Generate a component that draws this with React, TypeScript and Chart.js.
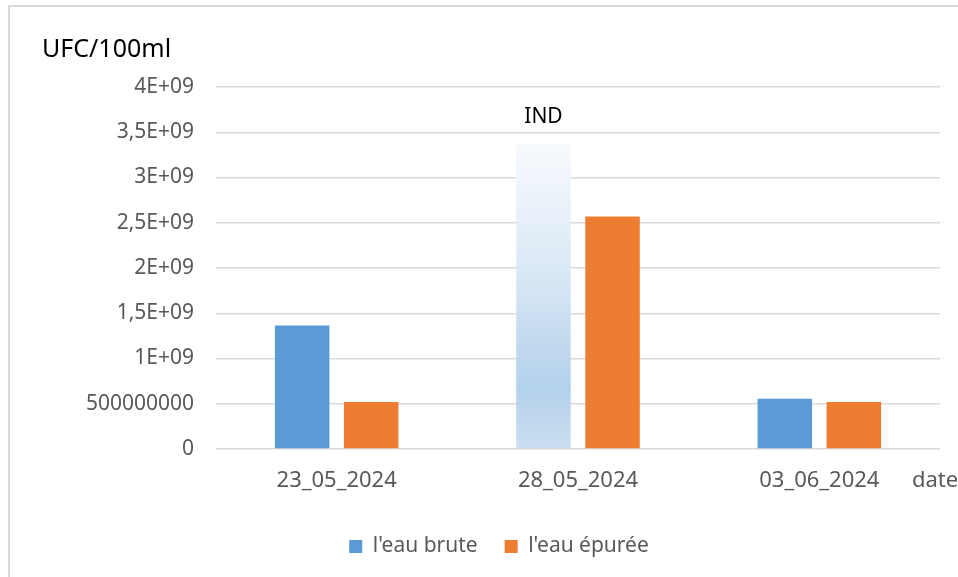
import React, { useEffect, useRef } from "react";
import { Chart, registerables } from "chart.js";

Chart.register(...registerables);

const categories = ["23_05_2024", "28_05_2024", "03_06_2024"];
const bruteValues = [1.365e9, 3.37e9, 0.555e9];
const epureeValues = [0.52e9, 2.57e9, 0.52e9];
const bruteLabels = ["", "IND", ""];
const yTickLabels = ["0", "500000000", "1E+09", "1,5E+09", "2E+09", "2,5E+09", "3E+09", "3,5E+09", "4E+09"];
const seriesNames = ["l'eau brute", "l'eau épurée"];
const yAxisTitle = "UFC/100ml";
const xAxisTitle = "date";

const BLUE = "#5B9BD5";
const ORANGE = "#ED7D31";
const FONT = "'Noto Sans', 'Open Sans', sans-serif";

export default function App() {
  const ref = useRef<HTMLCanvasElement | null>(null);

  useEffect(() => {
    if (!ref.current) return;
    const textPlugin = {
      id: "texts",
      afterDatasetsDraw(chart: any) {
        const c = chart.ctx;
        const area = chart.chartArea;
        c.save();
        c.font = `25px ${FONT}`;
        c.fillStyle = "#000000";
        c.textAlign = "left";
        c.textBaseline = "middle";
        c.fillText(yAxisTitle, 42, 50);
        c.font = `22px ${FONT}`;
        c.fillStyle = "#595959";
        c.fillText(xAxisTitle, area.right - 28, area.bottom + 32);
        const meta = chart.getDatasetMeta(0);
        c.font = `21px ${FONT}`;
        c.fillStyle = "#000000";
        c.textAlign = "center";
        meta.data.forEach((el: any, i: number) => {
          if (bruteLabels[i]) c.fillText(bruteLabels[i], el.x, el.y - 27);
        });
        c.restore();
      },
    };

    const chart = new Chart(ref.current, {
      type: "bar",
      data: {
        labels: categories,
        datasets: [
          {
            label: seriesNames[0],
            data: bruteValues,
            backgroundColor: (ctx: any) => {
              if (ctx.type !== "data" || !bruteLabels[ctx.dataIndex]) return BLUE;
              const chart = ctx.chart;
              if (!chart.chartArea || !chart.scales.y) return BLUE;
              const top = chart.scales.y.getPixelForValue(bruteValues[ctx.dataIndex]);
              const bottom = chart.scales.y.getPixelForValue(0);
              const g = chart.ctx.createLinearGradient(0, top, 0, bottom);
              g.addColorStop(0, "#F7FAFD");
              g.addColorStop(0.4, "#DCE9F6");
              g.addColorStop(0.8, "#B3D1EB");
              g.addColorStop(1, "#CCDFF1");
              return g;
            },
            categoryPercentage: 0.572,
            barPercentage: 0.79,
          },
          {
            label: seriesNames[1],
            data: epureeValues,
            backgroundColor: ORANGE,
            categoryPercentage: 0.572,
            barPercentage: 0.79,
          },
        ],
      },
      options: {
        animation: false,
        responsive: false,
        maintainAspectRatio: false,
        layout: { padding: { top: 87, right: 18, left: 58, bottom: 10 } },
        scales: {
          x: {
            grid: { display: false },
            border: { display: false },
            ticks: { color: "#595959", font: { family: FONT, size: 22 }, padding: 11 },
            afterFit: (s: any) => {
              s.height = 60;
            },
          },
          y: {
            min: 0,
            max: 4e9,
            border: { display: false },
            grid: { color: "#D9D9D9", lineWidth: 1.5, drawTicks: false },
            ticks: {
              stepSize: 5e8,
              color: "#595959",
              font: { family: FONT, size: 21 },
              padding: 22,
              callback: (_v: any, i: number) => yTickLabels[i],
            },
            afterFit: (s: any) => {
              s.width = 158;
            },
          },
        },
        plugins: {
          tooltip: { enabled: false },
          legend: {
            position: "bottom",
            labels: {
              boxWidth: 13,
              boxHeight: 13,
              padding: 27,
              color: "#595959",
              font: { family: FONT, size: 21 },
            },
          },
        },
      },
      plugins: [textPlugin],
    } as any);
    return () => chart.destroy();
  }, []);

  return (
    <div style={{ position: "absolute", left: 0, top: 0, width: 958, height: 577, overflow: "hidden", background: "#fff" }}>
      <div
        style={{
          position: "absolute",
          left: 8,
          top: 5,
          width: 1000,
          height: 700,
          border: "2px solid #D9D9D9",
          boxSizing: "border-box",
        }}
      />
      <canvas ref={ref} width={958} height={577} style={{ position: "absolute", left: 0, top: 0, width: 958, height: 577 }} />
    </div>
  );
}
